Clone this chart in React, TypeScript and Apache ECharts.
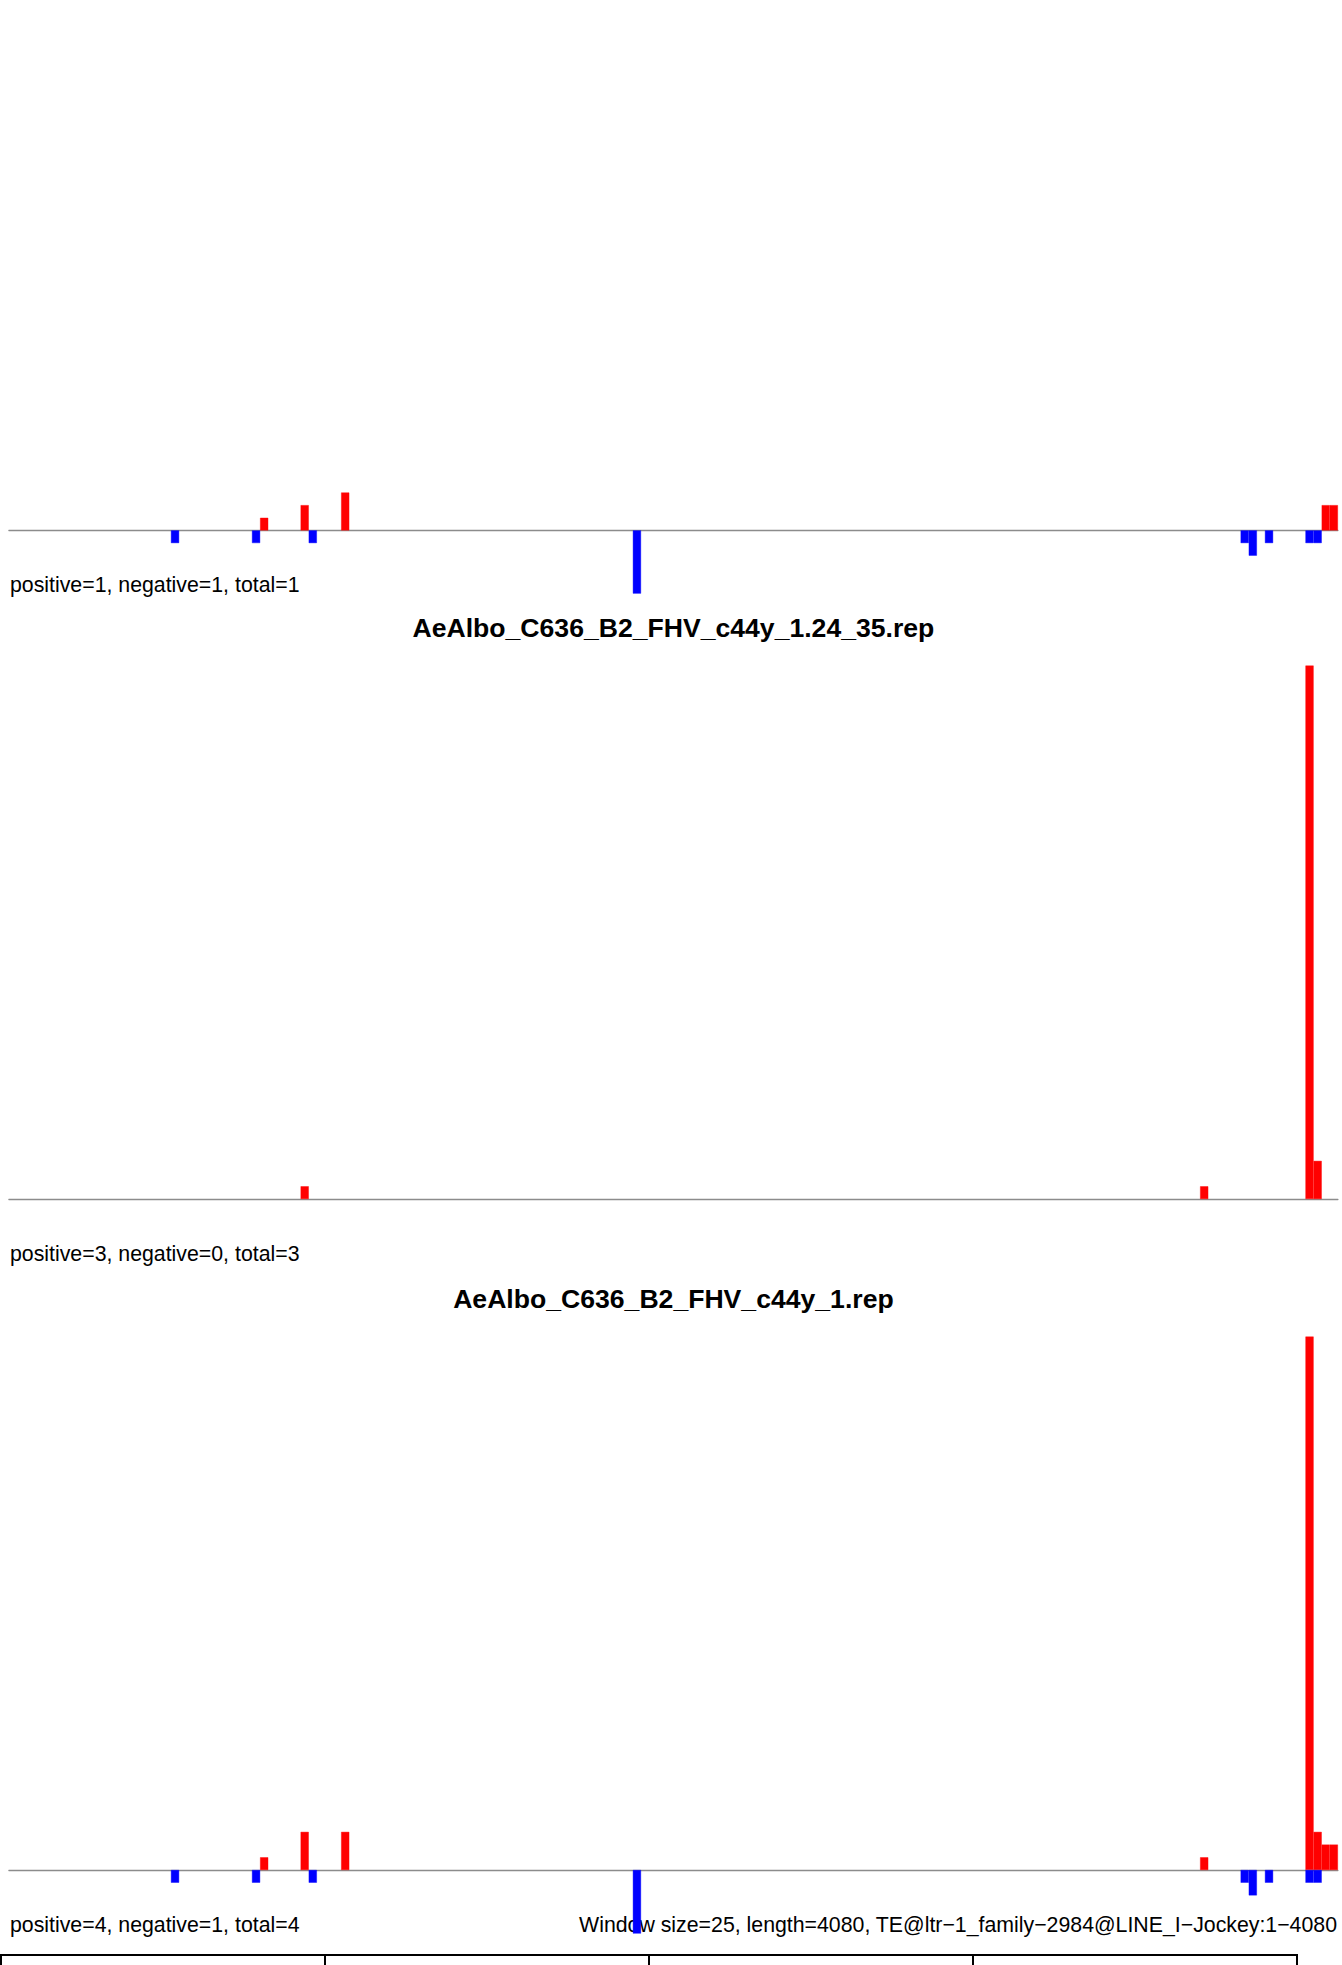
import React, { useEffect, useRef } from "react";
import * as echarts from "echarts";

// ---- data (bins of 25 bp, 164 bins over 4080 bp) ----
const binCount = 164;
const bins = Array.from({ length: binCount }, (_, i) => String(i));

// Panel 1 (top, title cut off)
const p1PosBins = [31, 36, 41, 162, 163];
const p1PosVals = [1, 2, 3, 2, 2];
const p1NegBins = [20, 30, 37, 77, 152, 153, 155, 160, 161];
const p1NegVals = [-1, -1, -1, -5, -1, -2, -1, -1, -1];

// Panel 2
const p2PosBins = [36, 147, 160, 161];
const p2PosVals = [1, 1, 42, 3];
const p2NegBins: number[] = [];
const p2NegVals: number[] = [];

// Panel 3
const p3PosBins = [31, 36, 41, 147, 160, 161, 162, 163];
const p3PosVals = [1, 3, 3, 1, 42, 3, 2, 2];
const p3NegBins = [20, 30, 37, 77, 152, 153, 155, 160, 161];
const p3NegVals = [-1, -1, -1, -5, -1, -2, -1, -1, -1];

const titles = ["", "AeAlbo_C636_B2_FHV_c44y_1.24_35.rep", "AeAlbo_C636_B2_FHV_c44y_1.rep"];
const summaries = [
  "positive=1, negative=1, total=1",
  "positive=3, negative=0, total=3",
  "positive=4, negative=1, total=4",
];
const footer = "Window size=25, length=4080, TE@ltr\u22121_family\u22122984@LINE_I\u2212Jockey:1\u22124080";

const yMin = -6;
const yMax = 42;

function dense(idx: number[], vals: number[]) {
  const arr: (number | string)[] = new Array(binCount).fill("-");
  idx.forEach((b, k) => (arr[b] = vals[k]));
  return arr;
}

const panels = [
  { pos: dense(p1PosBins, p1PosVals), neg: dense(p1NegBins, p1NegVals), baseline: 530 },
  { pos: dense(p2PosBins, p2PosVals), neg: dense(p2NegBins, p2NegVals), baseline: 1199 },
  { pos: dense(p3PosBins, p3PosVals), neg: dense(p3NegBins, p3NegVals), baseline: 1870 },
];

const UNIT = 12.7;
const LEFT = 8.9;
const WIDTH = 1329;
const FONT = "'Liberation Sans', Arial, Helvetica, sans-serif";

export default function App() {
  const ref = useRef<HTMLDivElement>(null);
  useEffect(() => {
    document.body.style.margin = "0";
    document.body.style.overflow = "hidden";
    const chart = echarts.init(ref.current!, null, { renderer: "svg" });

    const grids: any[] = [];
    const xAxes: any[] = [];
    const yAxes: any[] = [];
    const series: any[] = [];
    const graphics: any[] = [];

    panels.forEach((p, i) => {
      grids.push({
        left: LEFT,
        width: WIDTH,
        top: p.baseline - yMax * UNIT,
        height: (yMax - yMin) * UNIT,
        containLabel: false,
      });
      xAxes.push({
        type: "category",
        gridIndex: i,
        data: bins,
        boundaryGap: true,
        axisLine: { show: true, onZero: true, lineStyle: { color: "#8c8c8c", width: 1.3 } },
        axisTick: { show: false },
        axisLabel: { show: false },
        splitLine: { show: false },
        z: 1,
      });
      yAxes.push({
        type: "value",
        gridIndex: i,
        min: yMin,
        max: yMax,
        show: false,
        splitLine: { show: false },
      });
      series.push({
        type: "bar",
        xAxisIndex: i,
        yAxisIndex: i,
        data: p.pos,
        barGap: "-100%",
        barCategoryGap: "0%",
        itemStyle: { color: "#FF0000", borderColor: "#FF0000", borderWidth: 0.4 },
        z: 3,
      });
      series.push({
        type: "bar",
        xAxisIndex: i,
        yAxisIndex: i,
        data: p.neg,
        barGap: "-100%",
        barCategoryGap: "0%",
        itemStyle: { color: "#0000FF", borderColor: "#0000FF", borderWidth: 0.4 },
        z: 3,
      });
      if (titles[i]) {
        graphics.push({
          type: "text",
          x: LEFT + WIDTH / 2,
          y: p.baseline - 571,
          style: {
            text: titles[i],
            font: `bold 26.6px ${FONT}`,
            fill: "#000000",
            textAlign: "center",
            textVerticalAlign: "middle",
          },
        });
      }
      graphics.push({
        type: "text",
        x: 10,
        y: p.baseline + 55,
        style: {
          text: summaries[i],
          font: `21.3px ${FONT}`,
          fill: "#000000",
          textAlign: "left",
          textVerticalAlign: "middle",
        },
      });
    });

    graphics.push({
      type: "text",
      x: 1337,
      y: panels[2].baseline + 55,
      style: {
        text: footer,
        font: `21.3px ${FONT}`,
        fill: "#000000",
        textAlign: "right",
        textVerticalAlign: "middle",
      },
    });

    // cells of the box at the bottom (cut off by page edge)
    [1, 325, 649, 973].forEach((x) => {
      graphics.push({
        type: "rect",
        shape: { x, y: 1955, width: 324, height: 40 },
        style: { fill: "none", stroke: "#000000", lineWidth: 2 },
      });
    });

    chart.setOption({
      animation: false,
      backgroundColor: "#FFFFFF",
      grid: grids,
      xAxis: xAxes,
      yAxis: yAxes,
      series,
      graphic: graphics,
    });
    return () => chart.dispose();
  }, []);
  return (
    <div
      ref={ref}
      style={{ position: "absolute", left: 0, top: 0, width: 1342, height: 1965 }}
    />
  );
}
